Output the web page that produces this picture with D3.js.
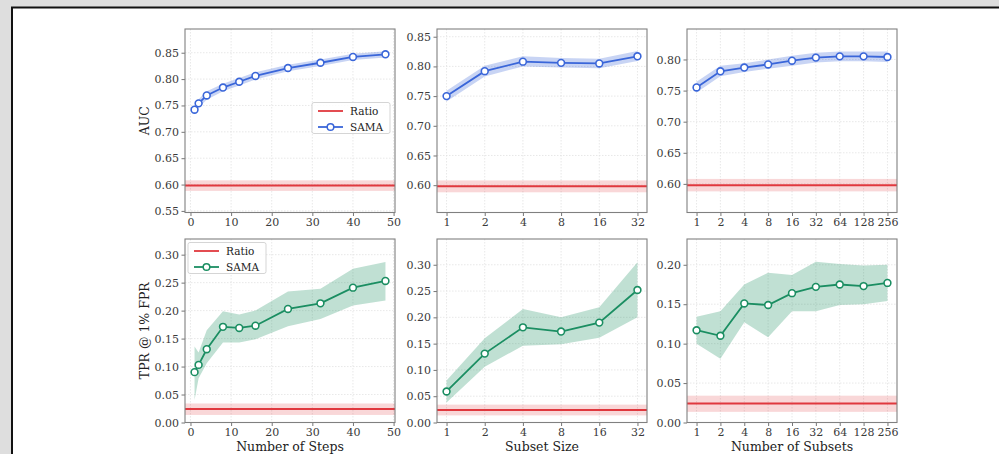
<!DOCTYPE html>
<html><head><meta charset="utf-8">
<script src="https://cdn.jsdelivr.net/npm/d3@7"></script>
<style>
html,body{margin:0;padding:0;background:#dedede;}
svg{display:block;}
</style></head>
<body>
<script>
// ---------- DATA ----------
const stepsX = [1, 2, 4, 8, 12, 16, 24, 32, 40, 48];
const subsetSizeX = ["1", "2", "4", "8", "16", "32"];
const numSubsetsX = ["1", "2", "4", "8", "16", "32", "64", "128", "256"];

const aucSteps      = [0.742, 0.754, 0.769, 0.784, 0.795, 0.806, 0.821, 0.831, 0.842, 0.847];
const aucStepsLo    = [0.735, 0.746, 0.761, 0.777, 0.788, 0.799, 0.815, 0.825, 0.836, 0.841];
const aucStepsHi    = [0.749, 0.762, 0.777, 0.791, 0.802, 0.813, 0.827, 0.837, 0.848, 0.853];

const aucSize       = [0.750, 0.792, 0.808, 0.806, 0.805, 0.817];
const aucSizeLo     = [0.741, 0.783, 0.800, 0.798, 0.797, 0.809];
const aucSizeHi     = [0.759, 0.801, 0.817, 0.814, 0.813, 0.826];

const aucSubsets    = [0.755, 0.781, 0.787, 0.792, 0.798, 0.803, 0.805, 0.805, 0.804];
const aucSubsetsLo  = [0.747, 0.773, 0.780, 0.785, 0.790, 0.795, 0.797, 0.797, 0.796];
const aucSubsetsHi  = [0.764, 0.790, 0.794, 0.800, 0.806, 0.811, 0.813, 0.813, 0.813];

const tprSteps      = [0.090, 0.103, 0.131, 0.171, 0.169, 0.173, 0.203, 0.213, 0.241, 0.253];
const tprStepsLo    = [0.040, 0.079, 0.106, 0.143, 0.143, 0.149, 0.172, 0.185, 0.209, 0.218];
const tprStepsHi    = [0.136, 0.125, 0.165, 0.199, 0.193, 0.200, 0.234, 0.239, 0.275, 0.287];

const tprSize       = [0.059, 0.131, 0.181, 0.173, 0.190, 0.252];
const tprSizeLo     = [0.038, 0.106, 0.146, 0.149, 0.161, 0.200];
const tprSizeHi     = [0.080, 0.160, 0.216, 0.200, 0.219, 0.305];

const tprSubsets    = [0.117, 0.110, 0.151, 0.149, 0.164, 0.172, 0.175, 0.173, 0.177];
const tprSubsetsLo  = [0.100, 0.081, 0.127, 0.108, 0.141, 0.141, 0.149, 0.150, 0.154];
const tprSubsetsHi  = [0.134, 0.141, 0.175, 0.190, 0.187, 0.204, 0.201, 0.199, 0.200];

const ratioAuc = [0.588, 0.598, 0.608];   // lo, mean, hi
const ratioTpr = [0.0135, 0.024, 0.034];

const stepTicks = [0, 10, 20, 30, 40, 50];
const aucTicks1 = [0.55, 0.60, 0.65, 0.70, 0.75, 0.80, 0.85];
const aucTicks2 = [0.60, 0.65, 0.70, 0.75, 0.80, 0.85];
const aucTicks3 = [0.60, 0.65, 0.70, 0.75, 0.80];
const tprTicks  = [0.00, 0.05, 0.10, 0.15, 0.20, 0.25, 0.30];
const tprTicks3 = [0.00, 0.05, 0.10, 0.15, 0.20];

const seriesNames = ["Ratio", "SAMA"];
const xLabels = ["Number of Steps", "Subset Size", "Number of Subsets"];
const yLabels = ["AUC", "TPR @ 1% FPR"];

// ---------- STYLE ----------
const W = 999, H = 454;
const FONT = "'DejaVu Serif', serif";
const BLUE = "#3a66d9", GREEN = "#1b8e62", RED = "#e0383e";
const colL = [185, 437, 687], PW = 210;
const rowT = [29, 239], PH = 183.5;

const svg = d3.select("body").append("svg").attr("width", W).attr("height", H);
svg.append("rect").attr("x", 0).attr("y", 0).attr("width", W).attr("height", H).attr("fill", "#dedede");
svg.append("rect").attr("x", 12).attr("y", 7.5).attr("width", W).attr("height", H).attr("fill", "#fff")
   .attr("stroke", "#111").attr("stroke-width", 2);

const panels = [
  {r:0,c:0,type:"lin",x:stepsX,y:aucSteps,lo:aucStepsLo,hi:aucStepsHi,ratio:ratioAuc,dom:[0.547,0.895],yt:aucTicks1,col:BLUE,legend:[312,102.5]},
  {r:0,c:1,type:"cat",x:subsetSizeX,y:aucSize,lo:aucSizeLo,hi:aucSizeHi,ratio:ratioAuc,dom:[0.554,0.863],yt:aucTicks2,col:BLUE},
  {r:0,c:2,type:"cat",x:numSubsetsX,y:aucSubsets,lo:aucSubsetsLo,hi:aucSubsetsHi,ratio:ratioAuc,dom:[0.554,0.849],yt:aucTicks3,col:BLUE},
  {r:1,c:0,type:"lin",x:stepsX,y:tprSteps,lo:tprStepsLo,hi:tprStepsHi,ratio:ratioTpr,dom:[0,0.328],yt:tprTicks,col:GREEN,legend:[188,242.5]},
  {r:1,c:1,type:"cat",x:subsetSizeX,y:tprSize,lo:tprSizeLo,hi:tprSizeHi,ratio:ratioTpr,dom:[0,0.349],yt:tprTicks,col:GREEN},
  {r:1,c:2,type:"cat",x:numSubsetsX,y:tprSubsets,lo:tprSubsetsLo,hi:tprSubsetsHi,ratio:ratioTpr,dom:[0,0.2327],yt:tprTicks3,col:GREEN},
];

panels.forEach(p => {
  const x0 = colL[p.c], y0 = rowT[p.r];
  let xs, xt;
  if (p.type === "lin") {
    const ext = d3.extent(p.x), m = (ext[1]-ext[0])*0.05;
    xs = d3.scaleLinear().domain([ext[0]-m, ext[1]+m]).range([x0, x0+PW]);
    xt = stepTicks;
  } else {
    xs = d3.scalePoint().domain(p.x).range([x0, x0+PW]).padding(0.05*(p.x.length-1));
    xt = p.x;
  }
  const ys = d3.scaleLinear().domain(p.dom).range([y0+PH, y0]);
  const g = svg.append("g");
  const clipId = "clip"+p.r+p.c;
  g.append("clipPath").attr("id", clipId).append("rect").attr("x", x0).attr("y", y0).attr("width", PW).attr("height", PH);

  // grid
  const grid = g.append("g").attr("stroke", "#e2e2e2").attr("stroke-width", 0.8).attr("stroke-dasharray", "1.5,1.5");
  xt.forEach(t => grid.append("line").attr("x1", xs(t)).attr("x2", xs(t)).attr("y1", y0).attr("y2", y0+PH));
  p.yt.forEach(t => grid.append("line").attr("x1", x0).attr("x2", x0+PW).attr("y1", ys(t)).attr("y2", ys(t)));

  const body = g.append("g").attr("clip-path", `url(#${clipId})`);
  // ratio band + line
  body.append("rect").attr("x", x0).attr("width", PW)
      .attr("y", ys(p.ratio[2])).attr("height", ys(p.ratio[0]) - ys(p.ratio[2]))
      .attr("fill", RED).attr("fill-opacity", 0.2);
  body.append("line").attr("x1", x0).attr("x2", x0+PW).attr("y1", ys(p.ratio[1])).attr("y2", ys(p.ratio[1]))
      .attr("stroke", RED).attr("stroke-width", 2);

  const idx = d3.range(p.x.length);
  body.append("path").datum(idx)
      .attr("d", d3.area().x(i => xs(p.x[i])).y0(i => ys(p.lo[i])).y1(i => ys(p.hi[i])))
      .attr("fill", p.col).attr("fill-opacity", 0.28);
  body.append("path").datum(idx)
      .attr("d", d3.line().x(i => xs(p.x[i])).y(i => ys(p.y[i])))
      .attr("fill", "none").attr("stroke", p.col).attr("stroke-width", 1.8);
  body.selectAll("circle").data(idx).join("circle")
      .attr("cx", i => xs(p.x[i])).attr("cy", i => ys(p.y[i])).attr("r", 3.4)
      .attr("fill", "#fff").attr("stroke", p.col).attr("stroke-width", 1.6);

  // axes
  const xa = g.append("g").attr("transform", `translate(0,${y0+PH})`)
     .call(d3.axisBottom(xs).tickValues(xt).tickSize(3.5).tickPadding(2).tickFormat(d => String(d)));
  const ya = g.append("g").attr("transform", `translate(${x0},0)`)
     .call(d3.axisLeft(ys).tickValues(p.yt).tickSize(3.5).tickPadding(2.5).tickFormat(d3.format(".2f")));
  [xa, ya].forEach(a => {
    a.select(".domain").remove();
    a.selectAll(".tick line").attr("stroke", "#666").attr("stroke-width", 0.9);
    a.selectAll("text").attr("fill", "#3a3a3a").style("font-family", FONT).style("font-size", "11px");
  });
  g.append("rect").attr("x", x0).attr("y", y0).attr("width", PW).attr("height", PH)
     .attr("fill", "none").attr("stroke", "#808080").attr("stroke-width", 1.1);

  if (p.r === 1) {
    g.append("text").attr("x", x0+PW/2).attr("y", 451).attr("text-anchor", "middle")
      .attr("fill", "#222").style("font-family", FONT).style("font-size", "12.5px").text(xLabels[p.c]);
  }
  if (p.c === 0) {
    g.append("text").attr("transform", `translate(149,${y0+PH/2}) rotate(-90)`).attr("text-anchor", "middle")
      .attr("fill", "#222").style("font-family", FONT).style("font-size", "12.5px").text(yLabels[p.r]);
  }

  if (p.legend) {
    const [lx, ly] = p.legend;
    const lg = g.append("g");
    lg.append("rect").attr("x", lx).attr("y", ly).attr("width", 78).attr("height", 31).attr("rx", 2)
      .attr("fill", "#fff").attr("fill-opacity", 0.85).attr("stroke", "#d0d0d0").attr("stroke-width", 0.9);
    const cols = [RED, p.col];
    seriesNames.forEach((nm, k) => {
      const yy = ly + 8.5 + k*16;
      lg.append("line").attr("x1", lx+6).attr("x2", lx+31).attr("y1", yy).attr("y2", yy)
        .attr("stroke", cols[k]).attr("stroke-width", 1.8);
      if (k === 1) lg.append("circle").attr("cx", lx+18.5).attr("cy", yy).attr("r", 3.3)
        .attr("fill", "#fff").attr("stroke", cols[k]).attr("stroke-width", 1.5);
      lg.append("text").attr("x", lx+38).attr("y", yy+3.8).attr("fill", "#222")
        .style("font-family", FONT).style("font-size", "10.5px").text(nm);
    });
  }
});
</script>
</body></html>
